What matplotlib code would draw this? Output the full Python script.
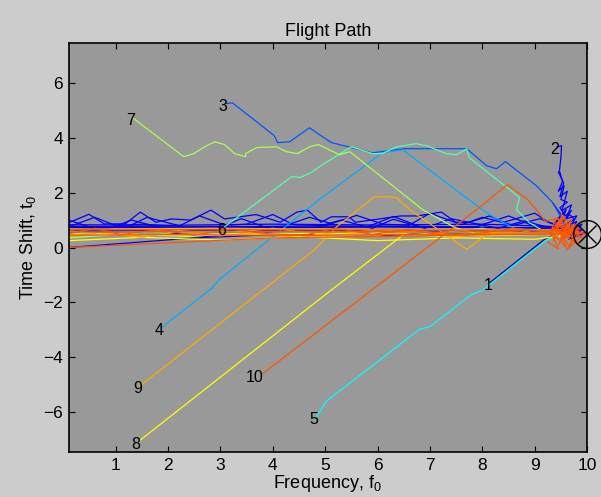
import matplotlib
matplotlib.use("Agg")
import matplotlib.pyplot as plt

plt.rcParams['font.family'] = ['Liberation Sans', 'DejaVu Sans']
plt.rcParams['mathtext.default'] = 'regular'

# jet(10) colours, one per path
jet10 = [(0, 0, 0.6667), (0, 0, 1), (0, 0.3333, 1), (0, 0.6667, 1), (0, 1, 1),
         (0.3333, 1, 0.6667), (0.6667, 1, 0.3333), (1, 1, 0), (1, 0.6667, 0), (1, 0.3333, 0)]

# main flight paths (start point first)
p1_x = [8.15, 9.18, 9.45, 9.6, 9.5, 9.75, 9.95]
p1_y = [-1.27, 0.29, 0.55, 0.7, 0.45, 0.62, 0.51]
p2_x = [9.43, 9.51, 9.50, 9.47, 9.53, 9.45, 9.56, 9.50, 9.62, 9.48, 9.58, 9.70, 9.55,
        9.66, 9.75, 9.60, 9.80, 9.68, 9.85, 9.72, 9.90, 9.78, 9.95]
p2_y = [3.67, 3.71, 3.3, 2.8, 2.4, 2.05, 2.25, 1.75, 1.65, 1.45, 1.15, 1.35, 0.95,
        1.2, 1.05, 0.75, 0.95, 0.45, 0.75, 0.35, 0.65, 0.6, 0.51]
p3_x = [3.10, 3.23, 4.03, 4.09, 4.32, 4.70, 4.89, 5.12, 5.90, 6.51, 7.70, 8.08, 8.27,
        8.44, 9.03, 9.34, 9.47, 9.6]
p3_y = [5.24, 5.27, 4.07, 3.82, 3.85, 4.36, 4.11, 3.82, 3.45, 3.60, 3.60, 2.98, 2.87,
        3.13, 2.25, 1.64, 1.20, 0.7]
p4_x = [1.88, 2.83, 2.98, 4.89, 6.09, 6.48, 7.56, 8.00, 8.23, 8.6, 9.3]
p4_y = [-2.91, -1.49, -1.16, 1.75, 3.45, 3.56, 2.00, 1.38, 1.09, 0.7, 0.55]
p5_x = [4.82, 4.89, 5.02, 6.80, 7.01, 7.79, 8.00, 8.99, 9.24, 9.5]
p5_y = [-6.18, -6.00, -5.60, -2.98, -2.87, -1.71, -1.56, -0.07, 0.29, 0.45]
p6_x = [3.06, 3.52, 4.36, 4.53, 4.76, 4.89, 5.50, 5.90, 6.09, 6.36, 6.74, 6.93, 7.31,
        7.51, 7.70, 7.75, 8.71, 8.65, 8.9, 9.3]
p6_y = [0.73, 1.38, 2.58, 2.55, 2.76, 2.95, 3.67, 3.42, 3.42, 3.67, 3.78, 3.71, 3.42,
        3.38, 3.60, 3.27, 1.82, 1.38, 0.9, 0.45]
p7_x = [1.32, 2.30, 2.49, 2.70, 2.89, 3.08, 3.27, 3.48, 3.48, 3.69, 4.07, 4.26, 4.47,
        4.70, 4.87, 5.27, 5.47, 6.86, 7.47, 7.9]
p7_y = [4.73, 3.31, 3.42, 3.67, 3.85, 3.75, 3.42, 3.31, 3.42, 3.64, 3.67, 3.49, 3.42,
        3.67, 3.75, 3.38, 3.49, 1.38, 0.73, 0.5]
p8_x = [1.42, 5.08, 6.55]
p8_y = [-7.09, -1.60, 0.55]
p9_x = [1.46, 4.80, 5.22, 5.94, 6.17, 6.36, 6.61, 6.80, 7.70, 8.14]
p9_y = [-5.05, -0.07, 0.76, 1.85, 1.85, 1.82, 1.38, 1.13, -0.07, 0.55]
p10_x = [3.79, 7.89, 8.48, 8.86, 9.03, 9.2, 9.4, 9.3, 9.55, 9.35, 9.6, 9.45, 9.7, 9.5,
         9.75, 9.4, 9.65, 9.85, 9.55, 9.8, 9.6, 9.9, 9.7, 9.95]
p10_y = [-4.62, 1.38, 2.29, 1.75, 1.38, 0.95, 1.05, 0.55, 1.15, 0.25, 0.75, 0.1, 1.0,
         0.35, 0.65, 0.85, 0.05, 0.75, 0.45, 0.15, 0.9, 0.35, 0.65, 0.51]

# wandering segments inside the band around t0 ~ 0.6
blue1_x = [0.1, 0.49, 0.78, 1.18, 1.47, 1.77, 2.06, 2.43, 2.82, 3.08, 3.68, 4.14, 4.46, 4.66,
           4.92, 5.12, 5.45, 5.58, 6.44, 6.76, 7.22, 7.49, 7.75, 8.14, 8.41, 9.0, 9.26, 9.6]
blue1_y = [0.9, 1.21, 0.86, 0.86, 1.29, 0.92, 1.04, 1.0, 1.36, 1.04, 1.2, 0.92, 1.29, 1.36,
           0.92, 1.12, 1.12, 0.92, 1.15, 1.15, 1.29, 0.92, 0.92, 1.15, 0.92, 1.25, 0.92, 0.75]
blue2_x = [0.1, 0.6, 1.0, 1.5, 2.2, 2.6, 3.1, 3.5, 4.0, 4.4, 5.0, 5.6, 6.1, 6.6, 7.0, 7.6,
           8.0, 8.6, 9.1, 9.6]
blue2_y = [0.75, 1.1, 0.8, 0.85, 0.77, 1.15, 0.81, 0.85, 1.2, 0.83, 0.8, 1.17, 0.85, 0.81,
           1.25, 0.83, 1.1, 0.81, 1.05, 0.65]
blue3_x = [0.1, 0.9, 1.3, 1.9, 2.9, 3.4, 3.9, 4.8, 5.3, 5.9, 6.3, 6.9, 7.4, 8.3, 8.8, 9.5]
blue3_y = [0.65, 0.7, 1.0, 0.7, 0.67, 1.05, 0.71, 0.73, 1.0, 0.7, 1.03, 0.7, 1.05, 0.7, 0.97, 0.6]
blue4_x = [0.1, 2.0, 4.0, 6.0, 8.0, 9.6]
blue4_y = [0.83, 0.81, 0.85, 0.82, 0.85, 0.75]
blue5_x = [0.1, 3.0, 6.5, 9.6]
blue5_y = [0.6, 0.63, 0.61, 0.65]
blue6_x = [0.1, 2.5, 5.0, 7.5, 9.7]
blue6_y = [0.77, 0.75, 0.78, 0.75, 0.7]
blue7_x = [0.1, 2.5, 5.0, 9.0]
blue7_y = [0.0, 0.35, 0.55, 0.65]
blue8_x = [0.1, 0.5, 1.2, 1.6, 2.3, 2.8, 3.5, 4.2, 4.7, 5.3, 5.8, 6.3, 6.8, 7.3, 7.9, 8.5,
           9.0, 9.6]
blue8_y = [1.0, 0.75, 0.73, 1.1, 0.75, 0.77, 0.75, 0.77, 1.1, 0.77, 0.75, 1.13, 0.77, 0.75,
           0.77, 1.15, 0.77, 0.7]
blue9_x = [0.1, 1.0, 1.8, 2.7, 3.6, 4.5, 5.4, 6.2, 7.1, 8.0, 8.9, 9.6]
blue9_y = [0.55, 0.45, 0.6, 0.4, 0.57, 0.45, 0.59, 0.43, 0.57, 0.45, 0.6, 0.55]
blue10_x = [9.45, 9.55, 9.48, 9.62, 9.52, 9.7, 9.6, 9.8, 9.65, 9.9, 9.75, 9.95]
blue10_y = [2.75, 2.35, 1.85, 2.05, 1.35, 1.55, 1.05, 1.15, 0.65, 0.85, 0.45, 0.51]
blue11_x = [9.35, 9.5, 9.4, 9.6, 9.45, 9.7, 9.55, 9.85, 9.65, 9.95]
blue11_y = [1.6, 1.2, 0.9, 1.4, 0.6, 1.0, 0.4, 0.8, 0.3, 0.51]
navy1_x = [0.1, 3.0, 6.0, 9.0, 9.6]
navy1_y = [0.73, 0.71, 0.75, 0.72, 0.6]
cyan1_x = [0.1, 2.0, 4.0, 6.0, 8.0, 9.5]
cyan1_y = [0.53, 0.57, 0.51, 0.59, 0.52, 0.55]
green1_x = [0.1, 1.0, 2.0, 3.0, 4.0, 5.0, 6.0, 7.0, 8.0, 8.5, 9.0, 9.5]
green1_y = [0.6, 0.45, 0.65, 0.5, 0.7, 0.45, 0.65, 0.5, 0.7, 0.45, 0.65, 0.55]
lime1_x = [0.1, 1.2, 2.4, 3.6, 4.8, 6.0, 7.2, 8.4, 9.5]
lime1_y = [0.35, 0.5, 0.4, 0.55, 0.37, 0.53, 0.4, 0.55, 0.45]
yellow1_x = [0.1, 1.5, 3.0, 4.5, 6.0, 7.5, 9.0, 9.6]
yellow1_y = [0.25, 0.37, 0.27, 0.4, 0.25, 0.35, 0.3, 0.45]
yellow2_x = [0.1, 2.5, 5.5, 8.0, 9.6]
yellow2_y = [0.5, 0.45, 0.53, 0.43, 0.5]
orange1_x = [0.1, 0.7, 1.5, 2.2, 3.0, 3.7, 4.5, 5.2, 6.0, 6.8, 7.5, 8.3, 9.0, 9.6]
orange1_y = [0.4, 0.55, 0.37, 0.6, 0.43, 0.53, 0.35, 0.57, 0.45, 0.6, 0.4, 0.55, 0.45, 0.55]
orange2_x = [0.1, 3.0, 6.0, 9.5]
orange2_y = [0.67, 0.7, 0.65, 0.65]
red1_x = [0.1, 1.0, 2.0, 3.0, 4.0, 5.0, 6.0, 7.0, 8.0, 9.0, 9.6]
red1_y = [0.57, 0.55, 0.59, 0.55, 0.58, 0.56, 0.59, 0.55, 0.58, 0.56, 0.57]
red2_x = [0.1, 0.6, 1.1, 1.8, 2.5, 3.2, 3.9, 4.6, 5.2, 5.9, 6.6, 7.2, 7.9, 8.6, 9.3]
red2_y = [0.5, 0.7, 0.47, 0.65, 0.45, 0.67, 0.5, 0.45, 0.7, 0.48, 0.65, 0.47, 0.5, 0.7, 0.55]
red3_x = [0.1, 2.0, 4.5, 7.0, 9.5]
red3_y = [0.45, 0.47, 0.44, 0.48, 0.5]
red4_x = [0.1, 9.5]
red4_y = [0.65, 0.63]
red5_x = [0.1, 4.0, 9.6]
red5_y = [0.0, 0.35, 0.5]
red6_x = [9.3, 9.5, 9.35, 9.65, 9.42, 9.7, 9.5, 9.8, 9.62, 9.9]
red6_y = [0.45, 0.9, 0.7, 0.35, 1.1, 0.55, 0.25, 0.85, 0.6, 0.5]
red7_x = [9.25, 9.45, 9.3, 9.6, 9.4, 9.75, 9.5, 9.85, 9.6, 9.95]
red7_y = [0.2, -0.05, 0.6, 0.0, 0.9, 0.3, 1.2, 0.55, -0.1, 0.51]

labels = ['1', '2', '3', '4', '5', '6', '7', '8', '9', '10']
target_f, target_t = 10.0, 0.51

paths = [(p1_x, p1_y), (p2_x, p2_y), (p3_x, p3_y), (p4_x, p4_y), (p5_x, p5_y),
         (p6_x, p6_y), (p7_x, p7_y), (p8_x, p8_y), (p9_x, p9_y), (p10_x, p10_y)]
extras = {
    0: [(navy1_x, navy1_y)],
    1: [(blue1_x, blue1_y), (blue2_x, blue2_y), (blue3_x, blue3_y), (blue4_x, blue4_y),
        (blue5_x, blue5_y), (blue6_x, blue6_y), (blue7_x, blue7_y), (blue8_x, blue8_y),
        (blue9_x, blue9_y), (blue10_x, blue10_y), (blue11_x, blue11_y)],
    4: [(cyan1_x, cyan1_y)],
    5: [(green1_x, green1_y)],
    6: [(lime1_x, lime1_y)],
    7: [(yellow1_x, yellow1_y), (yellow2_x, yellow2_y)],
    8: [(orange1_x, orange1_y), (orange2_x, orange2_y)],
    9: [(red1_x, red1_y), (red2_x, red2_y), (red3_x, red3_y), (red4_x, red4_y),
        (red5_x, red5_y), (red6_x, red6_y), (red7_x, red7_y)],
}

fig = plt.figure(figsize=(6.01, 4.97), dpi=100, facecolor='#cccccc')
ax = fig.add_axes([0.114, 0.0905, 0.863, 0.823])
ax.set_facecolor('#999999')

for i, (xs, ys) in enumerate(paths):
    c = jet10[i]
    for ex, ey in extras.get(i, []):
        ax.plot(ex, ey, color=c, lw=0.9)
    ax.plot(xs, ys, color=c, lw=0.9)
    ax.annotate(labels[i], (xs[0], ys[0]), xytext=(1.5, -2), textcoords='offset points',
                ha='right', va='center', fontsize=11.5, color='black')

ax.plot(target_f, target_t, 'o', ms=20, mfc='none', mec='black', mew=1, clip_on=False, zorder=10)
ax.plot(target_f, target_t, 'x', ms=13.5, mec='black', mew=1, clip_on=False, zorder=10)

ax.set_xlim(0.1, 10)
ax.set_ylim(-7.45, 7.45)
ax.set_xticks(range(1, 11))
ax.set_yticks([-6, -4, -2, 0, 2, 4, 6])
ax.set_yticklabels(['\u22126', '\u22124', '\u22122', '0', '2', '4', '6'])
ax.tick_params(direction='in', top=True, right=True, length=4, width=0.8, labelsize=12.5,
               pad=4)
for s in ax.spines.values():
    s.set_linewidth(1.2)

ax.set_title('Flight Path', fontsize=13, pad=5)
ax.set_xlabel('Frequency, f$_0$', fontsize=13, labelpad=0)
ax.set_ylabel('Time Shift, t$_0$', fontsize=13, labelpad=4)

fig.savefig('out.png', dpi=100, facecolor=fig.get_facecolor())
